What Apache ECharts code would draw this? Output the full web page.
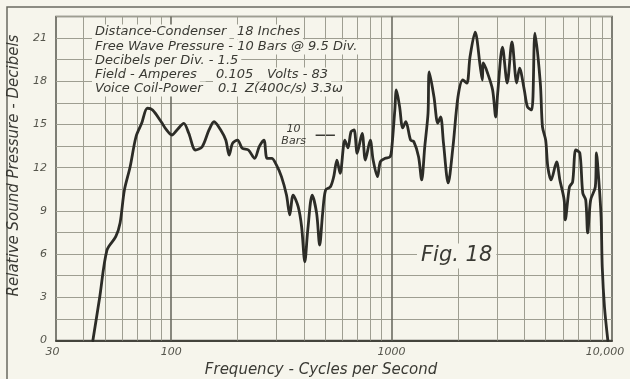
<!DOCTYPE html>
<html>
<head>
<meta charset="utf-8">
<script src="https://cdn.jsdelivr.net/npm/echarts@6/dist/echarts.min.js"></script>
<style>
  html, body { margin: 0; padding: 0; background: #f6f5ec; }
  #chart { width: 630px; height: 379px; }
</style>
</head>
<body>
<div id="chart"></div>
<script>
// Response curve: frequency (c/s) and relative sound pressure (dB)
const frequency = [
  44.1, 47.4, 51.1, 56.0, 58.6, 61.3, 65.1, 69.2, 73.4, 77.9, 82.3, 90, 95.2, 100.7,
  106.2, 114.0, 120.1, 128.8, 138.2, 148.4, 156.4, 167.7, 176.8, 183.2, 189.7, 200,
  210, 224, 239, 250.8, 263.4, 272.2, 285.8, 300, 316.3, 333.4, 345.1, 357.3, 376.7,
  390.5, 403.8, 416.4, 436.2, 456.9, 471.6, 486.4, 501.5, 527.7, 546.2, 564.7, 583.9,
  613.5, 633.9, 654.4, 675.5, 698.1, 734.7, 760.1, 800, 824.4, 862.5, 889.5, 934.8,
  983.8, 1000, 1034, 1051, 1087, 1123, 1160, 1219, 1261, 1325, 1369, 1414, 1463, 1482,
  1557, 1620, 1669, 1719, 1806, 1898, 2000, 2104, 2196, 2268, 2393, 2526, 2580, 2608,
  2724, 2873, 2968, 3030, 3184, 3346, 3516, 3695, 3806, 4000, 4137, 4325, 4472, 4729,
  4836, 5000, 5115, 5294, 5605, 5800, 6067, 6135, 6411, 6626, 6848, 7145, 7369, 7600,
  7758, 8000, 8400, 8502, 8710, 8923, 9031, 9245, 9576
];
const level = [
  0, 3.04, 6.28, 7.21, 8.16, 10.45, 12.07, 14.15, 15.08, 16.13, 16.0, 15.19, 14.62, 14.27,
  14.62, 15.08, 14.39, 13.23, 13.46, 14.62, 15.19, 14.62, 13.92, 12.88, 13.69, 13.92,
  13.35, 13.23, 12.65, 13.46, 13.92, 12.65, 12.65, 12.19, 11.38, 10.10, 8.72, 10.10, 9.29,
  7.90, 5.47, 7.67, 10.10, 8.83, 6.63, 8.83, 10.45, 10.68, 11.38, 12.53, 11.61,
  13.92, 13.37, 14.5, 14.62, 13.0, 14.39, 12.53, 13.92, 12.53, 11.38, 12.42, 12.65,
  12.76, 13.23, 16.0, 17.40, 16.24, 14.76, 15.19, 13.92, 13.81, 12.76, 11.15, 13.46, 15.78, 18.65,
  16.91, 15.10, 15.52, 13.72, 10.94, 13.44, 16.91, 18.09, 17.88, 19.69, 21.42, 18.99, 18.09, 19.27,
  18.58, 17.40, 15.52, 17.19, 20.38, 17.88, 20.73, 17.88, 18.92, 17.40, 16.22, 16.01, 21.35, 17.88,
  14.83, 13.92, 12.05, 11.15, 12.40, 11.15, 9.76, 8.37, 10.66, 11.01, 13.23, 13.02, 10.24, 9.76,
  7.47, 9.76, 10.66, 13.02, 11.15, 8.58, 5.10, 2.32, 0
];

// Axis ticks and grid rulings
const xTickValues = [30, 100, 1000, 10000];
const xTickLabels = ['30', '100', '1000', '10,000'];
const decadeLines = [100, 1000];
const minorLines = [40, 50, 60, 70, 80, 90, 200, 300, 400, 500, 600, 700, 800, 900,
                    2000, 3000, 4000, 5000, 6000, 7000, 8000, 9000];
const yMin = 0, yMax = 22.5, yDivision = 1.5, yLabelStep = 3;

// "10 Bars" reference level: 9.5 divisions of 1.5 dB
const barsLevel = 14.25;
const barsMarkFreq = [452, 553];

// Test conditions printed in the upper left
const notes = [
  { text: 'Distance-Condenser', x: 92, y: 32 },
  { text: '18 Inches', x: 234, y: 32 },
  { text: 'Free Wave Pressure - 10 Bars @ 9.5 Div.', x: 92, y: 47 },
  { text: 'Decibels per Div. - 1.5', x: 92, y: 61 },
  { text: 'Field - Amperes', x: 92, y: 75 },
  { text: '0.105', x: 213, y: 75 },
  { text: 'Volts - 83', x: 264, y: 75 },
  { text: 'Voice Coil-Power', x: 92, y: 89 },
  { text: '0.1', x: 215, y: 89 },
  { text: 'Z(400c/s) 3.3\u03c9', x: 242, y: 89 }
];

const paper = '#f6f5ec';
const ink = '#3a3a34';
const rule = '#9e9e91';
const font = '"DejaVu Sans", sans-serif';

const chart = echarts.init(document.getElementById('chart'), null, { renderer: 'canvas' });

const curve = frequency.map((f, i) => [f, level[i]]);

const option = {
  backgroundColor: paper,
  animation: false,
  grid: {
    left: 56, right: 18, top: 16.5, bottom: 38.5,
    show: true, borderColor: '#55554c', borderWidth: 1.5,
    backgroundColor: 'transparent',
    outerBoundsMode: 'none'
  },
  xAxis: {
    type: 'log',
    logBase: 10,
    min: 30,
    max: 10000,
    name: 'Frequency - Cycles per Second',
    nameLocation: 'middle',
    nameGap: 21,
    nameTextStyle: { fontFamily: font, fontStyle: 'italic', fontSize: 15, color: ink, padding: [0, 26, 0, 0] },
    axisLine: { show: true, lineStyle: { color: '#44443c', width: 2 } },
    axisTick: { show: false },
    splitLine: { show: false },
    axisLabel: {
      show: true,
      margin: 6,
      fontFamily: font, fontStyle: 'italic', fontSize: 11, color: '#55554c',
      showMinLabel: true, showMaxLabel: true,
      formatter: function (v) {
        for (let i = 0; i < xTickValues.length; i++) {
          if (Math.abs(Math.log10(v) - Math.log10(xTickValues[i])) < 0.01) {
            if (i === 0) return '{lo|' + xTickLabels[i] + '}';
            if (i === xTickValues.length - 1) return '{hi|' + xTickLabels[i] + '}';
            return xTickLabels[i];
          }
        }
        return '';
      },
      rich: {
        lo: { fontFamily: font, fontStyle: 'italic', fontSize: 11, color: '#55554c', padding: [0, 7, 0, 0] },
        hi: { fontFamily: font, fontStyle: 'italic', fontSize: 11, color: '#55554c', padding: [0, 14, 0, 0] }
      }
    }
  },
  yAxis: {
    type: 'value',
    min: yMin,
    max: yMax,
    interval: yDivision,
    name: 'Relative Sound Pressure - Decibels',
    nameLocation: 'middle',
    nameRotate: 90,
    nameGap: 26,
    nameTextStyle: { fontFamily: font, fontStyle: 'italic', fontSize: 15, color: ink, padding: [0, 0, 0, 26] },
    axisLine: { show: false },
    axisTick: { show: false },
    splitLine: { show: true, lineStyle: { color: rule, width: 1 } },
    axisLabel: {
      margin: 9,
      fontFamily: font, fontStyle: 'italic', fontSize: 11, color: '#55554c',
      formatter: function (v) {
        const r = Math.round(v * 10) / 10;
        return (Math.abs(r / yLabelStep - Math.round(r / yLabelStep)) < 1e-6 && r < yMax) ? String(r) : '';
      }
    }
  },
  series: [
    {
      // vertical rulings of the log paper
      type: 'line',
      data: [],
      silent: true,
      z: 1,
      markLine: {
        silent: true,
        symbol: 'none',
        label: { show: false },
        animation: false,
        data: minorLines.map(v => ({ xAxis: v, lineStyle: { color: rule, width: 1, type: 'solid' } }))
          .concat(decadeLines.map(v => ({ xAxis: v, lineStyle: { color: '#6c6c62', width: 1.6, type: 'solid' } })))
      }
    },
    {
      // 10 bars reference dash
      type: 'line',
      data: barsMarkFreq.map(f => [f, barsLevel]),
      symbol: 'none',
      silent: true,
      z: 3,
      lineStyle: { color: ink, width: 1.5 },
      markPoint: {
        symbol: 'circle', symbolSize: 0,
        data: [{ coord: [barsMarkFreq[0], barsLevel] }],
        label: {
          show: true,
          formatter: '10\nBars',
          position: 'left',
          distance: 0,
          offset: [-22, 0],
          align: 'center',
          lineHeight: 12,
          fontFamily: font, fontStyle: 'italic', fontSize: 11, color: ink
        }
      }
    },
    {
      type: 'line',
      data: curve,
      smooth: 0.3,
      symbol: 'none',
      z: 5,
      lineStyle: { color: '#2c2c27', width: 2.8, cap: 'round', join: 'round' }
    }
  ],
  graphic: {
    elements: [
      // outer frame of the figure
      { type: 'polyline', silent: true, z: 0,
        shape: { points: [[7, 379], [7, 7], [630, 7]] },
        style: { stroke: '#6a6a60', lineWidth: 1.5, fill: null } }
    ].concat(notes.map(n => ({
      type: 'text', silent: true, z: 10,
      x: n.x, y: n.y,
      style: {
        text: n.text, fill: ink,
        font: 'italic 13px ' + font,
        verticalAlign: 'middle', align: 'left',
        backgroundColor: paper, padding: [1, 3]
      }
    }))).concat([
      { type: 'text', silent: true, z: 10, x: 417, y: 256,
        style: { text: 'Fig. 18', fill: ink, font: 'italic 21px ' + font,
                 verticalAlign: 'middle', align: 'left', backgroundColor: paper, padding: [2, 4] } }
    ])
  }
};

chart.setOption(option);
</script>
</body>
</html>
